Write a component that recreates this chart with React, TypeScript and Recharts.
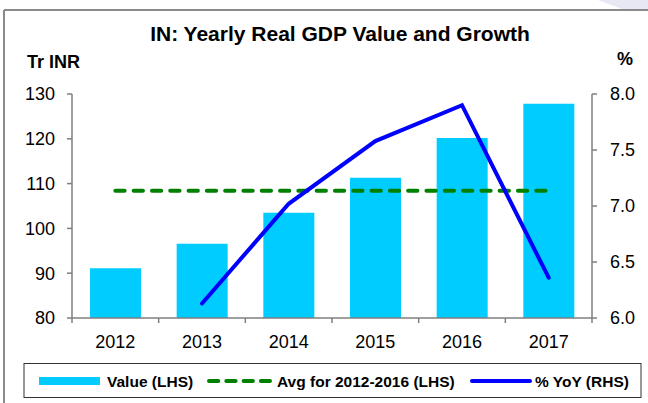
import React from 'react';
import { ComposedChart, Bar, Line, XAxis, YAxis } from 'recharts';

const years = ['2012', '2013', '2014', '2015', '2016', '2017'];
const gdpValue = [91.1, 96.6, 103.5, 111.3, 120.2, 127.8];
const avgValue = [108.4, 108.4, 108.4, 108.4, 108.4, 108.4];
const yoyGrowth: (number | null)[] = [null, 6.13, 7.02, 7.58, 7.9, 6.36];
const leftTicks = [80, 90, 100, 110, 120, 130];
const rightTicks = [6.0, 6.5, 7.0, 7.5, 8.0];

const data = years.map((year, i) => ({
  year,
  value: gdpValue[i],
  avg: avgValue[i],
  yoy: yoyGrowth[i],
}));

const FONT = '"Liberation Sans", Arial, sans-serif';
const AXIS = '#7f7f7f';
const BAR = '#00ccff';
const GREEN = '#008000';
const BLUE = '#0000ff';

const TICK_SIZE = 5;
const TICK_MARGIN = 12;

// category label in the middle, tick mark on the band edges (Excel style)
function YearTick(props: any) {
  const { x, y, payload, index, visibleTicksCount } = props;
  const half = payload.offset || 0;
  const axisY = y - TICK_SIZE - TICK_MARGIN;
  const isLast = index === visibleTicksCount - 1;
  return (
    <g>
      <line x1={x - half} y1={axisY} x2={x - half} y2={axisY + TICK_SIZE} stroke={AXIS} strokeWidth={1.5} />
      {isLast && (
        <line x1={x + half} y1={axisY} x2={x + half} y2={axisY + TICK_SIZE} stroke={AXIS} strokeWidth={1.5} />
      )}
      <text x={x} y={y} dy="0.71em" textAnchor="middle" fontSize={18} fill="#000">
        {payload.value}
      </text>
    </g>
  );
}

export default function App() {
  return (
    <div
      style={{
        position: 'absolute',
        left: 0,
        top: 0,
        width: 648,
        height: 403,
        background: '#ffffff',
        fontFamily: FONT,
        overflow: 'hidden',
      }}
    >
      <ComposedChart
        width={648}
        height={403}
        data={data}
        margin={{ top: 94, right: 0, bottom: 55, left: 0 }}
        style={{ position: 'absolute', left: 0, top: 0, fontFamily: FONT }}
      >
        <XAxis
          dataKey="year"
          height={30}
          tickLine={false}
          tickSize={TICK_SIZE}
          tickMargin={TICK_MARGIN}
          axisLine={{ stroke: AXIS, strokeWidth: 1.5 }}
          tick={<YearTick />}
          interval={0}
        />
        <YAxis
          yAxisId="left"
          width={72}
          domain={[80, 130]}
          ticks={leftTicks}
          allowDataOverflow
          tickSize={5}
          tickMargin={12}
          axisLine={{ stroke: AXIS, strokeWidth: 1.5 }}
          tickLine={{ stroke: AXIS, strokeWidth: 1.5 }}
          tick={{ fill: '#000000', fontSize: 18 }}
        />
        <YAxis
          yAxisId="right"
          orientation="right"
          width={56}
          domain={[6, 8]}
          ticks={rightTicks}
          allowDataOverflow
          tickSize={5}
          tickMargin={13}
          axisLine={{ stroke: AXIS, strokeWidth: 1.5 }}
          tickLine={{ stroke: AXIS, strokeWidth: 1.5 }}
          tick={{ fill: '#000000', fontSize: 18 }}
          tickFormatter={(v: number) => v.toFixed(1)}
        />
        <Bar
          yAxisId="left"
          dataKey="value"
          fill={BAR}
          barSize={51}
          isAnimationActive={false}
        />
        <Line
          yAxisId="left"
          dataKey="avg"
          stroke={GREEN}
          strokeWidth={4}
          strokeDasharray="9.3 9"
          strokeLinecap="round"
          dot={false}
          activeDot={false}
          isAnimationActive={false}
        />
        <Line
          yAxisId="right"
          dataKey="yoy"
          type="linear"
          stroke={BLUE}
          strokeWidth={4}
          strokeLinecap="round"
          dot={false}
          activeDot={false}
          isAnimationActive={false}
        />
      </ComposedChart>

      <svg
        width={648}
        height={403}
        style={{ position: 'absolute', left: 0, top: 0, pointerEvents: 'none' }}
        fontFamily={FONT}
      >
        <polygon points="598,0 648,0 648,9 622,9" fill="#e8e8f4" />
        <line x1={4} y1={10} x2={648} y2={10} stroke="#8a8a8a" strokeWidth={2} />
        <line x1={4} y1={10} x2={4} y2={403} stroke="#8a8a8a" strokeWidth={2} />

        <text x={340} y={41} textAnchor="middle" fontSize={21} fontWeight="bold" fill="#000">
          IN: Yearly Real GDP Value and Growth
        </text>
        <text x={27} y={68} fontSize={18} fontWeight="bold" fill="#000">
          Tr INR
        </text>
        <text x={617} y={65} fontSize={18} fontWeight="bold" fill="#000">
          %
        </text>

        <rect x={24} y={363.5} width={617} height={34} fill="none" stroke="#333" strokeWidth={1} />
        <rect x={39} y={377} width={61} height={8} fill={BAR} />
        <text x={107} y={386.5} fontSize={15.5} fontWeight="bold" fill="#000">
          Value (LHS)
        </text>
        <line
          x1={209}
          y1={381}
          x2={270}
          y2={381}
          stroke={GREEN}
          strokeWidth={4}
          strokeDasharray="9.3 8"
          strokeLinecap="round"
        />
        <text x={277} y={386.5} fontSize={15.5} fontWeight="bold" fill="#000">
          Avg for 2012-2016 (LHS)
        </text>
        <line x1={472} y1={381} x2={530} y2={381} stroke={BLUE} strokeWidth={4} strokeLinecap="round" />
        <text x={535} y={386.5} fontSize={15.5} fontWeight="bold" fill="#000">
          % YoY (RHS)
        </text>
      </svg>
    </div>
  );
}
